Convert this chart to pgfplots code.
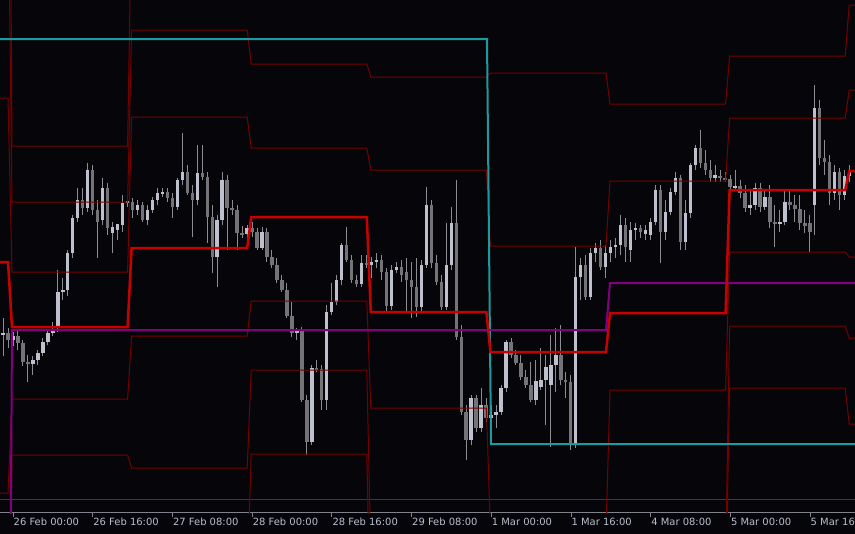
\documentclass[border=0pt]{standalone}
\usepackage{pgfplots}
\pgfplotsset{compat=1.18}
\usepackage{pgfplotstable}
\usepackage{fontspec}
\setmainfont{DejaVu Sans}
\definecolor{bg}{RGB}{6,6,10}
\definecolor{bull}{RGB}{190,193,205}
\definecolor{bear}{RGB}{115,115,120}
\definecolor{wick}{RGB}{140,140,146}
\definecolor{lvl}{RGB}{118,0,0}
\definecolor{piv}{RGB}{200,0,0}
\definecolor{wpiv}{RGB}{128,0,128}
\definecolor{mpiv}{RGB}{28,155,158}
\definecolor{sep}{RGB}{58,58,72}
\definecolor{axc}{RGB}{130,130,140}
\definecolor{lab}{RGB}{185,190,205}

\pgfplotstableread{
i o h l c
-2 335 318 356 333
-1 333 328 348 340
0 340 332 346 336
1 336 330 350 343
2 343 340 366 362
3 362 355 382 364
4 364 356 375 360
5 360 350 365 353
6 353 338 356 342
7 342 330 345 333
8 333 322 336 330
9 328 270 332 292
10 292 278 300 290
11 290 250 296 253
12 253 215 258 218
13 218 188 222 200
14 200 188 215 208
15 208 163 212 170
16 170 165 215 210
17 210 200 258 222
18 220 178 225 188
19 188 183 235 228
20 233 222 253 227
21 230 225 240 224
22 225 195 232 203
23 203 198 207 201
24 202 198 218 210
25 210 200 215 205
26 205 202 222 220
27 220 205 225 210
28 210 197 213 200
29 200 188 205 193
30 193 188 197 192
31 192 188 202 198
32 198 193 218 207
33 207 178 210 180
34 180 133 185 172
35 172 165 195 193
36 193 185 237 200
37 200 145 205 173
38 173 145 180 177
39 177 172 243 217
40 217 205 273 257
41 257 215 287 220
42 220 172 225 180
43 180 175 250 208
44 208 200 215 210
45 210 205 250 233
46 233 226 238 234
47 234 225 238 228
48 228 222 237 232
49 232 228 250 248
50 248 227 250 232
51 232 228 262 257
52 257 250 268 265
53 265 258 283 280
54 280 275 292 290
55 290 283 318 316
56 316 302 337 333
57 333 328 340 331
58 331 327 402 400
59 400 395 455 442
60 442 365 445 368
61 368 360 372 369
62 369 365 410 400
63 400 305 410 312
64 312 283 315 302
65 302 275 305 280
66 280 243 285 245
67 245 227 262 260
68 260 255 283 280
69 280 275 287 284
70 284 255 287 263
71 263 255 268 265
72 265 257 278 262
73 262 253 268 260
74 260 255 280 272
75 272 268 312 306
76 306 265 310 270
77 270 262 273 267
78 267 260 282 275
79 272 258 312 280
80 280 262 318 287
81 287 258 317 307
82 307 260 312 265
83 265 187 268 205
84 205 200 268 263
85 263 255 285 282
86 282 275 310 307
87 307 223 310 265
88 265 207 270 223
89 223 180 340 337
90 337 325 415 412
91 412 405 460 440
92 440 395 445 398
93 398 395 432 428
94 428 388 432 405
95 405 398 422 418
96 418 405 422 415
97 415 405 428 412
98 412 385 415 388
99 388 340 392 342
100 342 338 358 355
101 355 350 365 363
102 363 355 380 377
103 377 370 388 385
104 385 362 402 400
105 400 360 405 381
106 387 348 390 380
107 380 355 425 367
108 385 335 447 365
109 365 328 392 355
110 355 325 385 380
111 380 372 398 382
112 382 375 450 445
113 445 247 448 277
114 277 258 300 265
115 265 255 300 297
116 297 248 300 253
117 253 243 262 248
118 248 240 270 267
119 267 245 278 253
120 253 240 262 247
121 247 238 258 245
122 245 215 255 225
123 225 218 262 247
124 250 222 262 230
125 230 223 240 228
126 228 225 238 232
127 234 225 240 230
128 235 218 240 222
129 222 185 225 190
130 190 185 263 232
131 232 200 240 212
132 212 188 215 192
133 192 172 195 178
134 178 175 250 242
135 242 200 250 213
136 213 163 218 165
137 165 145 170 148
138 148 130 168 163
139 163 150 175 170
140 170 160 182 178
141 178 165 182 175
142 176 170 182 178
143 178 172 182 179
144 179 175 193 187
145 187 170 190 186
146 186 180 198 193
147 193 185 212 208
148 208 190 215 205
149 205 183 210 188
150 188 183 212 207
151 207 190 210 197
152 197 185 228 222
153 222 205 247 224
154 224 210 232 222
155 222 190 225 202
156 202 190 210 205
157 205 195 222 209
158 209 195 230 223
159 223 210 233 226
160 223 215 252 232
161 205 85 235 108
162 108 100 165 158
163 158 140 175 162
164 162 155 205 193
165 193 165 200 172
166 172 168 210 195
167 195 170 200 176
168 176 165 182 170
}\candles

\begin{document}
\begin{tikzpicture}
\fill[bg] (0,-21bp) rectangle (855bp,513bp);
\useasboundingbox (0,-21bp) rectangle (855bp,513bp);
\begin{axis}[
  at={(0,0)}, anchor=south west,
  width=855bp, height=513bp, scale only axis,
  xmin=0, xmax=855, ymin=0, ymax=513,
  y dir=reverse,
  hide y axis,
  axis line style={draw=none},
  xtick pos=left,
  tick align=outside,
  major tick length=4bp,
  every tick/.style={draw=axc, line width=0.8bp},
  xtick={13,92.7,172.4,252.1,331.8,411.5,491.2,570.9,650.6,730.3,810},
  xticklabels={26 Feb 00:00,26 Feb 16:00,27 Feb 08:00,28 Feb 00:00,28 Feb 16:00,29 Feb 08:00,1 Mar 00:00,1 Mar 16:00,4 Mar 08:00,5 Mar 00:00,5 Mar 16:00},
  xticklabel style={font=\fontsize{10}{11}\selectfont, text=lab, anchor=north west, inner sep=0pt, xshift=0.5bp, yshift=-1.2bp},
]
% separator and axis lines
\addplot[sep, line width=1bp] coordinates {(0,499) (855,499)};
\addplot[axc, line width=1bp] coordinates {(0,512.3) (855,512.3)};
% wicks
\addplot[draw=none, mark=none, forget plot,
  error bars/.cd, y dir=both, y explicit, error mark=none,
  error bar style={draw=wick, line width=1bp, solid}]
  table[x expr=13+4.98*\thisrow{i}, y expr=(\thisrow{h}+\thisrow{l})/2, y error expr=(\thisrow{l}-\thisrow{h})/2] {\candles};
% bullish bodies
\addplot[draw=none, mark=none, forget plot,
  restrict expr to domain={\thisrow{o}-\thisrow{c}}{0.01:10000},
  error bars/.cd, y dir=both, y explicit, error mark=none,
  error bar style={draw=bull, line width=3.4bp, solid}]
  table[x expr=13+4.98*\thisrow{i}, y expr=(\thisrow{o}+\thisrow{c})/2, y error expr={max(abs(\thisrow{o}-\thisrow{c})/2,0.7)}] {\candles};
% bearish bodies
\addplot[draw=none, mark=none, forget plot,
  restrict expr to domain={\thisrow{o}-\thisrow{c}}{-10000:0.001},
  error bars/.cd, y dir=both, y explicit, error mark=none,
  error bar style={draw=bear, line width=3.4bp, solid}]
  table[x expr=13+4.98*\thisrow{i}, y expr=(\thisrow{o}+\thisrow{c})/2, y error expr={max(abs(\thisrow{o}-\thisrow{c})/2,0.7)}] {\candles};
% thin daily levels
\addplot[lvl, line width=1bp] coordinates {(0,-500)(8,-500)(12,146)(127.6,146)(131.6,-102)(247.2,-102)(251.2,-13)(366.8,-13)(370.8,-71)(486.4,-71)(490.4,-33)(606,-33)(610,-26)(725.6,-26)(729.6,-16)(845.2,-16)(849.2,-77)(855,-77)};
\addplot[lvl, line width=1bp] coordinates {(0,-133)(8,-133)(12,202)(127.6,202)(131.6,30)(247.2,30)(251.2,64)(366.8,64)(370.8,77)(486.4,77)(490.4,73)(606,73)(610,104)(725.6,104)(729.6,56)(845.2,56)(849.2,5)(855,5)};
\addplot[lvl, line width=1bp] coordinates {(0,98)(8,98)(12,272)(127.6,272)(131.6,117)(247.2,117)(251.2,148)(366.8,148)(370.8,170)(486.4,170)(490.4,246)(606,246)(610,181)(725.6,181)(729.6,118)(845.2,118)(849.2,90)(855,90)};
\addplot[lvl, line width=1bp] coordinates {(0,493)(8,493)(12,399)(127.6,399)(131.6,336)(247.2,336)(251.2,301)(366.8,301)(370.8,408)(486.4,408)(490.4,530)(606,530)(610,390)(725.6,390)(729.6,252)(845.2,252)(849.2,257)(855,257)};
\addplot[lvl, line width=1bp] coordinates {(0,700)(8,700)(12,455)(127.6,455)(131.6,468)(247.2,468)(251.2,370)(366.8,370)(370.8,553)(486.4,553)(490.4,631)(606,631)(610,560)(725.6,560)(729.6,326)(845.2,326)(849.2,338)(855,338)};
\addplot[lvl, line width=1bp] coordinates {(0,900)(8,900)(12,560)(127.6,560)(131.6,580)(247.2,580)(251.2,454)(366.8,454)(370.8,649)(486.4,649)(490.4,793)(606,793)(610,598)(725.6,598)(729.6,388)(845.2,388)(849.2,424)(855,424)};
% monthly pivot
\addplot[mpiv, line width=2bp] coordinates {(0,39)(487,39)(491,444)(855,444)};
% weekly pivot
\addplot[wpiv, line width=2bp] coordinates {(0,1000)(8,1000)(12,330)(606,330)(610,283)(855,283)};
% daily pivot
\addplot[piv, line width=2.5bp] coordinates {(0,262)(8,262)(12,327)(127.6,327)(131.6,248)(247.2,248)(251.2,217)(366.8,217)(370.8,312)(486.4,312)(490.4,352)(606,352)(610,313)(725.6,313)(729.6,190)(845.2,190)(849.2,171)(855,171)};
\node[font=\fontsize{10}{11}\selectfont, text=lab, anchor=north west, inner sep=0pt] at (axis cs:-66.7,518.2) {23 Feb 08:00};
\end{axis}
\end{tikzpicture}
\end{document}
